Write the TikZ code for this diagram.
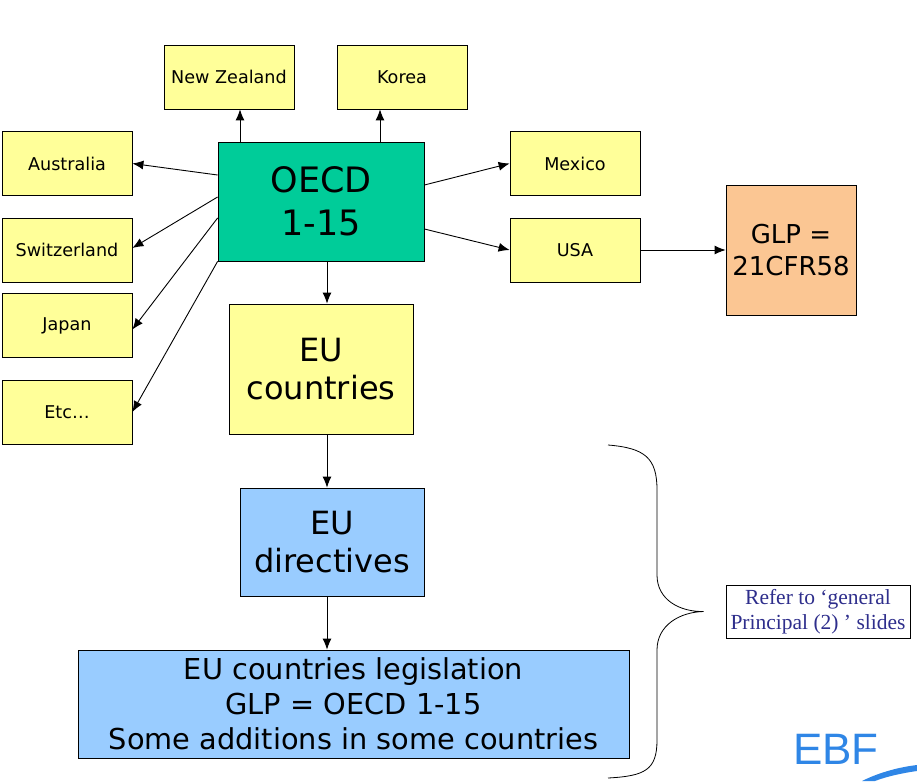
\documentclass[tikz,border=0pt]{standalone}
\usepackage{fontspec}
\setmainfont{DejaVu Sans}
\newfontfamily\referfont{Liberation Serif}
\newfontfamily\logofont{Liberation Sans}
\usetikzlibrary{arrows.meta,positioning,calc}
\definecolor{OecdGreen}{HTML}{00CC99}
\definecolor{CtyYellow}{HTML}{FFFF99}
\definecolor{GlpPeach}{HTML}{FBC693}
\definecolor{EuBlue}{HTML}{99CCFF}
\definecolor{ReferNavy}{HTML}{2E2E8C}
\definecolor{EbfBlue}{HTML}{2F86E6}

\tikzset{
  box/.style={draw,line width=0.8pt,inner sep=0pt,align=center},
  country/.style={box,fill=CtyYellow,minimum width=130pt,minimum height=64pt,
    font=\fontsize{17.6}{20}\selectfont},
  bigbox/.style={box,font=\fontsize{32}{38}\selectfont},
  link/.style={->,line width=0.9pt},
}

\begin{document}
\begin{tikzpicture}[x=1pt,y=-1pt,>={Latex[length=11pt,width=9pt]}]
  \useasboundingbox (0,0) rectangle (917,781);

  % centre and countries
  \node[bigbox,fill=OecdGreen,minimum width=206pt,minimum height=119pt,
    font=\fontsize{35}{43}\selectfont] (oecd) at (321,201.5) {OECD\\1-15};
  \node[country] (nz) at (229,77) {New Zealand};
  \node[country] (korea) at (402,77) {Korea};
  \node[country] (aus) at (67,163.5) {Australia};
  \node[country] (swiss) at (67,250) {Switzerland};
  \node[country] (japan) at (67,325.5) {Japan};
  \node[country] (etc) at (67,412) {Etc…};
  \node[country] (mexico) at (575,163.5) {Mexico};
  \node[country] (usa) at (575,250) {USA};
  \node[bigbox,fill=GlpPeach,minimum width=130pt,minimum height=130pt,
    font=\fontsize{26}{32}\selectfont] (glp) at (791,250) {GLP =\\21CFR58};

  % EU chain
  \node[bigbox,fill=CtyYellow,minimum width=184pt,minimum height=130pt] (eucty) at (321,369) {EU\\countries};
  \node[bigbox,fill=EuBlue,minimum width=184pt,minimum height=108pt] (eudir) at (332,542) {EU\\directives};
  \node[box,fill=EuBlue,minimum width=551pt,minimum height=108pt,
    font=\fontsize{28.8}{35}\selectfont] (eulaw) at (353.5,704)
    {EU countries legislation\\GLP = OECD 1-15\\Some additions in some countries};
  \node[draw,line width=0.6pt,fill=white,minimum width=184pt,minimum height=53pt,inner sep=0pt,
    align=center,text=ReferNavy,font=\referfont\fontsize{21.5}{25}\selectfont] (refer) at (818,611.5)
    {Refer to ‘general\\Principal (2) ’ slides};

  % arrows
  \draw[link] ([xshift=-81pt]oecd.north) -- ([xshift=-81pt]oecd.north |- nz.south);
  \draw[link] ([xshift=59pt]oecd.north) -- ([xshift=59pt]oecd.north |- korea.south);
  \draw[link] ([yshift=26.5pt]oecd.west) -- (aus.east);
  \draw[link] ([yshift=4.5pt]oecd.west) -- ([yshift=2pt]swiss.east);
  \draw[link] ([yshift=-16.5pt]oecd.west) -- ([yshift=-4pt]japan.east);
  \draw[link] (oecd.south west) -- (etc.east);
  \draw[link] ([yshift=16.5pt]oecd.east) -- (mexico.west);
  \draw[link] ([yshift=-27.5pt]oecd.east) -- (usa.west);
  \draw[link] (usa.east) -- (glp.west);
  \draw[link] ([xshift=6pt]oecd.south) -- ([xshift=6pt]oecd.south |- eucty.north);
  \draw[link] ([xshift=6pt]eucty.south) -- ([xshift=6pt]eucty.south |- eudir.north);
  \draw[link] ([xshift=-5pt]eudir.south) -- ([xshift=-5pt]eudir.south |- eulaw.north);

  % brace
  \coordinate (tip) at ([xshift=-22pt]refer.west);
  \draw[line width=0.8pt] (608,445) .. controls (645,448) and (657,458) .. (657,490)
    -- (657,575) .. controls (657,600) and (680,612) .. (tip)
    .. controls (680,612) and (657,625) .. (657,650)
    -- (657,740) .. controls (657,770) and (645,776) .. (608,778);

  % logo
  \node[text=EbfBlue,font=\logofont\fontsize{44}{44}\selectfont,inner sep=0pt] (ebf) at (836,749) {EBF};
  \fill[EbfBlue] (862,781) .. controls (880,772) and (900,767) .. (917,765)
    -- (917,771) .. controls (902,773) and (885,777) .. (875,781) -- cycle;
\end{tikzpicture}
\end{document}
